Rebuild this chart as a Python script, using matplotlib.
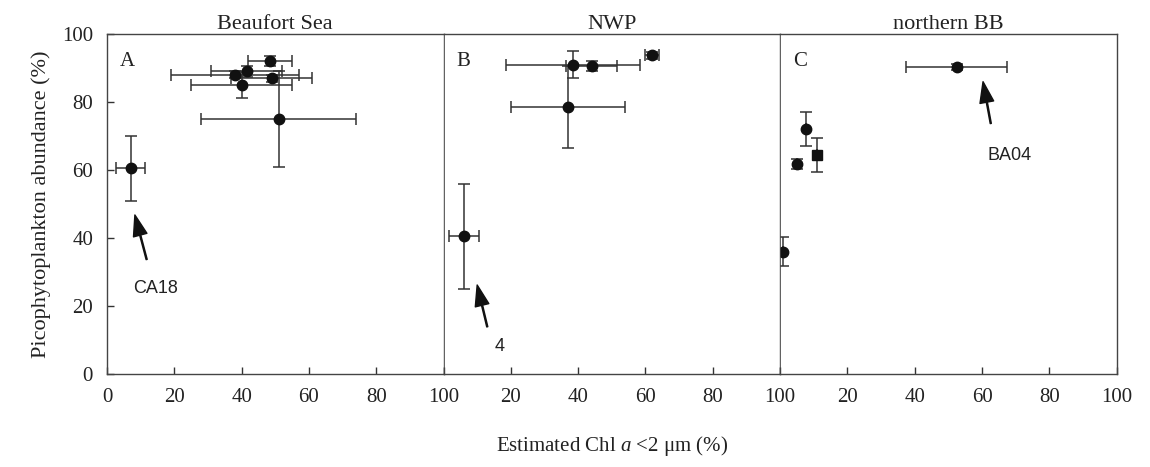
import matplotlib.pyplot as plt

plt.rcParams['font.family'] = ['Liberation Serif', 'DejaVu Serif']
plt.rcParams['mathtext.fontset'] = 'custom'
plt.rcParams['mathtext.rm'] = 'Liberation Serif'
plt.rcParams['mathtext.it'] = 'Liberation Serif:italic'

# Panel A - Beaufort Sea
a_x = [48.5, 41.5, 38, 49, 40, 51, 7]
a_y = [92, 89, 88, 87, 85, 75, 60.5]
a_xerr = [6.5, 10.5, 19, 12, 15, 23, 4.2]
a_yerr = [1.5, 1.5, 1, 1, 3.8, 14, 9.5]

# Panel B - NWP
b_x = [38.5, 44, 62, 37, 6]
b_y = [91, 90.5, 93.8, 78.5, 40.5]
b_xerr = [20, 7.5, 2, 17, 4.5]
b_yerr = [4, 1.5, 1, 12, 15.5]

# Panel C - northern BB (last one drawn as square)
c_x = [52.5, 7.6, 4.9, 1, 11]
c_y = [90.3, 72, 61.7, 36, 64.5]
c_xerr = [15, 0, 0, 0, 0]
c_yerr = [0.8, 5, 1.5, 4.3, 5]

titles = ['Beaufort Sea', 'NWP', 'northern BB']
letters = ['A', 'B', 'C']
xticks = [0, 20, 40, 60, 80, 100]

fig, axes = plt.subplots(1, 3, figsize=(11.5, 4.67), dpi=100, sharey=True)
fig.subplots_adjust(left=0.093, right=0.971, bottom=0.199, top=0.927, wspace=0)

ebkw = dict(fmt='none', ecolor='#333333', elinewidth=1.1, capsize=4, capthick=1.1)

ax = axes[0]
ax.errorbar(a_x, a_y, xerr=a_xerr, yerr=a_yerr, **ebkw)
ax.plot(a_x, a_y, 'o', color='#111111', ms=7.5)

ax = axes[1]
ax.errorbar(b_x, b_y, xerr=b_xerr, yerr=b_yerr, **ebkw)
ax.plot(b_x, b_y, 'o', color='#111111', ms=7.5)

ax = axes[2]
ax.errorbar(c_x, c_y, xerr=c_xerr, yerr=c_yerr, **ebkw)
ax.plot(c_x[:-1], c_y[:-1], 'o', color='#111111', ms=7.5)
ax.plot(c_x[-1:], c_y[-1:], 's', color='#111111', ms=7)

arrow = dict(facecolor='#111111', edgecolor='#111111', width=0.8, headwidth=10, headlength=15, shrink=0)
sans = ['Liberation Sans', 'DejaVu Sans']
axes[0].annotate('', xy=(8.3, 46.8), xytext=(11.8, 33.7), arrowprops=arrow)
axes[0].text(14.3, 25.3, 'CA18', family=sans, fontsize=13, ha='center', va='center', color='#222222')
axes[1].annotate('', xy=(10, 26.2), xytext=(13, 13.9), arrowprops=arrow)
axes[1].text(16.7, 8, '4', family=sans, fontsize=13, ha='center', va='center', color='#222222')
axes[2].annotate('', xy=(60.3, 86), xytext=(62.6, 73.7), arrowprops=arrow)
axes[2].text(68.2, 64.4, 'BA04', family=sans, fontsize=13, ha='center', va='center', color='#222222')

for i, ax in enumerate(axes):
    ax.set_xlim(0, 100)
    ax.set_ylim(0, 100)
    ax.set_xticks(xticks)
    if i == 0:
        ax.set_xticklabels([str(t) for t in xticks])
    else:
        ax.set_xticklabels([''] + [str(t) for t in xticks[1:]])
    ax.tick_params(direction='in', length=5, width=1, colors='#333333', labelcolor='#222222',
                   labelsize=15, pad=10)
    ax.set_title(titles[i], fontsize=16, pad=3, color='#222222')
    ax.text(6, 92, letters[i], fontsize=15, ha='center', va='center', color='#222222')
    for s in ax.spines.values():
        s.set_color('#444444')
        s.set_linewidth(1.0)
    if i > 0:
        ax.tick_params(axis='y', left=False)
        ax.spines['left'].set_linewidth(0.6)

axes[0].set_yticks([0, 20, 40, 60, 80, 100])
axes[0].set_ylabel('Picophytoplankton abundance (%)', fontsize=16, color='#222222', labelpad=8)
fig.text(0.532, 0.045, r'Estimated Chl $\mathit{a}$ <2 $\mathrm{\mu}$m (%)', fontsize=15,
         ha='center', va='center', color='#222222')

fig.savefig('out.png', dpi=100)
